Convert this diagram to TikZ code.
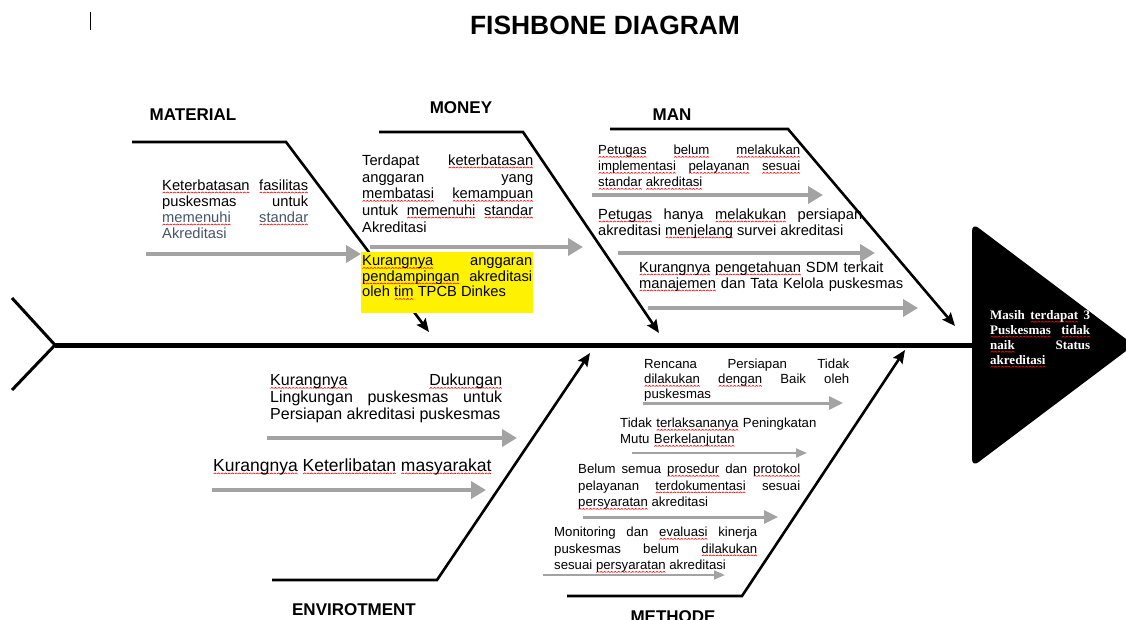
\documentclass[tikz,border=0pt]{standalone}
\usepackage{fontspec}
\setmainfont{Liberation Sans}
\newfontfamily\headfont{Liberation Serif}
\usetikzlibrary{arrows.meta}
\definecolor{agray}{RGB}{163,163,163}
\definecolor{slate}{RGB}{68,84,106}
\newsavebox\wavebox
\newsavebox\sqbox
\newcommand\sq[1]{\sbox\sqbox{#1}\leavevmode\rlap{\lower2.9pt\hbox to\wd\sqbox{\xleaders\copy\wavebox\hfil}}\usebox\sqbox}
\tolerance=10000
\hbadness=10000
\hyphenpenalty=10000
\exhyphenpenalty=10000
\newcommand\fs[2]{\fontsize{#1}{#2}\selectfont}
\begin{document}
\sbox\wavebox{\begin{pgfpicture}\pgfsetcolor{red}\pgfsetlinewidth{0.6pt}\pgfpathmoveto{\pgfpoint{0pt}{0pt}}\pgfpathlineto{\pgfpoint{1.4pt}{1.1pt}}\pgfpathlineto{\pgfpoint{2.8pt}{0pt}}\pgfusepath{stroke}\end{pgfpicture}}%
\begin{tikzpicture}[x=1pt,y=-1pt,
  bone/.style={line width=2.6pt,line join=miter,-{Stealth[length=13pt,width=11pt,inset=2pt]}},
  garr/.style={line width=4pt,agray,-{Triangle[length=15pt,width=17pt]}},
  garrm/.style={line width=3pt,agray,-{Triangle[length=14pt,width=13pt]}},
  garrs/.style={line width=2pt,agray,-{Triangle[length=11pt,width=9pt]}},
  txt/.style={inner sep=0pt,anchor=north west,align=justify},
  txtl/.style={inner sep=0pt,anchor=north west,align=left},
  lbl/.style={inner sep=0pt,font=\fs{17}{20}\bfseries}]
\useasboundingbox (0,0) rectangle (1126,619);

% title and cursor mark
\node[inner sep=0pt,font=\fs{26.4}{30}\bfseries] (title) at (605,25) {FISHBONE DIAGRAM};
\coordinate (curA) at (90,12); \coordinate (curB) at (90,30);
\draw[line width=1pt] (curA) -- (curB);

% spine, tail, head
\coordinate (tail) at (55,345);
\coordinate (headL) at (972,345);
\coordinate (tailT) at (12,298);
\coordinate (tailB) at (12,390);
\draw[line width=5pt] (tail) -- (headL);
\draw[line width=3pt,line join=miter] (tailT) -- (tail) -- (tailB);
\fill[rounded corners=8pt] (972,223) -- (1134,345) -- (972,467) -- cycle;
\node[txt,text width=100pt,text=white,font=\headfont\fs{13}{15}\bfseries] (headtxt) at (990,310.5)
 {Masih \sq{terdapat} 3\linebreak \sq{Puskesmas} \sq{tidak}\linebreak \sq{naik} Status\linebreak \sq{akreditasi}};

% bone coordinates
\coordinate (matA) at (132,142); \coordinate (matB) at (286,142); \coordinate (matT) at (429,332);
\coordinate (monA) at (379,132); \coordinate (monB) at (523,132); \coordinate (monT) at (659,333);
\coordinate (manA) at (610,129); \coordinate (manB) at (788,129); \coordinate (manT) at (955,326);
\coordinate (envA) at (272,580); \coordinate (envB) at (437,580); \coordinate (envT) at (590,353);
\coordinate (metA) at (567,596); \coordinate (metB) at (742,596); \coordinate (metT) at (905,350);

\draw[bone] (matA) -- (matB) -- (matT);
\draw[bone] (monA) -- (monB) -- (monT);
\draw[bone] (manA) -- (manB) -- (manT);
\draw[bone] (envA) -- (envB) -- (envT);
\draw[bone] (metA) -- (metB) -- (metT);

% category labels
\node[lbl] (lmat) at (193,115) {MATERIAL};
\node[lbl] (lmon) at (461,108) {MONEY};
\node[lbl] (lman) at (672,115) {MAN};
\node[lbl] (lenv) at (354,610) {ENVIROTMENT};
\node[lbl] (lmet) at (673,617) {METHODE};

% gray cause arrows
\coordinate (g1a) at (146,254); \coordinate (g1b) at (361,254);
\coordinate (g2a) at (370,247); \coordinate (g2b) at (583,247);
\coordinate (g3a) at (592,195); \coordinate (g3b) at (823,195);
\coordinate (g4a) at (618,253); \coordinate (g4b) at (875,253);
\coordinate (g5a) at (648,308); \coordinate (g5b) at (918,308);
\coordinate (g6a) at (267,438); \coordinate (g6b) at (517,438);
\coordinate (g7a) at (212,490); \coordinate (g7b) at (486,490);
\coordinate (g8a) at (643,403); \coordinate (g8b) at (843,403);
\coordinate (g9a) at (632,453); \coordinate (g9b) at (807,453);
\coordinate (g10a) at (583,517); \coordinate (g10b) at (778,517);
\coordinate (g11a) at (543,575); \coordinate (g11b) at (725,575);
\draw[garr] (g1a) -- (g1b);
\draw[garr] (g2a) -- (g2b);
\draw[garr] (g3a) -- (g3b);
\draw[garr] (g4a) -- (g4b);
\draw[garr] (g5a) -- (g5b);
\draw[garr] (g6a) -- (g6b);
\draw[garr] (g7a) -- (g7b);
\draw[garrm] (g8a) -- (g8b);
\draw[garrs] (g9a) -- (g9b);
\draw[garrm] (g10a) -- (g10b);
\draw[garrs] (g11a) -- (g11b);

% yellow box
\node[fill=yellow,inner sep=0pt,anchor=north west,minimum width=172pt,minimum height=61pt] (ybox) at (361,252) {};

% cause texts
\node[txt,text width=146pt,font=\fs{14.7}{16}] (tmat) at (162,179.6)
 {\sq{Keterbatasan} \sq{fasilitas}\linebreak puskesmas untuk\linebreak {\color{slate}\sq{memenuhi} \sq{standar}\linebreak Akreditasi}};
\node[txt,text width=171pt,font=\fs{14.7}{16.7}] (tmon) at (362,154.6)
 {Terdapat \sq{keterbatasan}\linebreak anggaran yang\linebreak \sq{membatasi} \sq{kemampuan}\linebreak untuk \sq{memenuhi} \sq{standar}\linebreak Akreditasi};
\node[txt,text width=170pt,font=\fs{14.7}{15.5}] (tyel) at (362,255.6)
 {\sq{Kurangnya} anggaran\linebreak \sq{pendampingan} akreditasi\linebreak oleh \sq{tim} TPCB Dinkes};
\node[txt,text width=202pt,font=\fs{13.2}{16}] (tman1) at (598,145.1)
 {\sq{Petugas} \sq{belum} \sq{melakukan}\linebreak \sq{implementasi} \sq{pelayanan} \sq{sesuai}\linebreak \sq{standar} \sq{akreditasi}};
\node[txt,text width=264pt,font=\fs{14.7}{16}] (tman2) at (598,208.6)
 {\sq{Petugas} hanya \sq{melakukan} persiapan\linebreak akreditasi \sq{menjelang} survei akreditasi};
\node[txtl,text width=270pt,font=\fs{14.7}{16}] (tman3) at (639,261.6)
 {\sq{Kurangnya} \sq{pengetahuan} SDM terkait\\ \sq{manajemen} dan Tata Kelola puskesmas};
\node[txt,text width=232pt,font=\fs{16}{17}] (tenv1) at (270,374.1)
 {\sq{Kurangnya} \sq{Dukungan}\linebreak Lingkungan puskesmas untuk\linebreak Persiapan akreditasi puskesmas};
\node[txtl,font=\fs{17.5}{20}] (tenv2) at (213,458.5)
 {\sq{Kurangnya} \sq{Keterlibatan} \sq{masyarakat}};
\node[txt,text width=205pt,font=\fs{13.2}{15}] (tmet1) at (644,359.1)
 {Rencana Persiapan Tidak\linebreak \sq{dilakukan} \sq{dengan} Baik oleh\linebreak puskesmas};
\node[txtl,text width=210pt,font=\fs{13.2}{16}] (tmet2) at (620,418.1)
 {Tidak \sq{terlaksananya} Peningkatan\\ Mutu \sq{Berkelanjutan}};
\node[txt,text width=222pt,font=\fs{13.2}{16.5}] (tmet3) at (578,464.1)
 {Belum semua \sq{prosedur} dan \sq{protokol}\linebreak pelayanan \sq{terdokumentasi} sesuai\linebreak \sq{persyaratan} akreditasi};
\node[txt,text width=203pt,font=\fs{13.2}{16.5}] (tmet4) at (554,527.1)
 {Monitoring dan \sq{evaluasi} kinerja\linebreak puskesmas belum \sq{dilakukan}\linebreak sesuai \sq{persyaratan} akreditasi};
\end{tikzpicture}
\end{document}
